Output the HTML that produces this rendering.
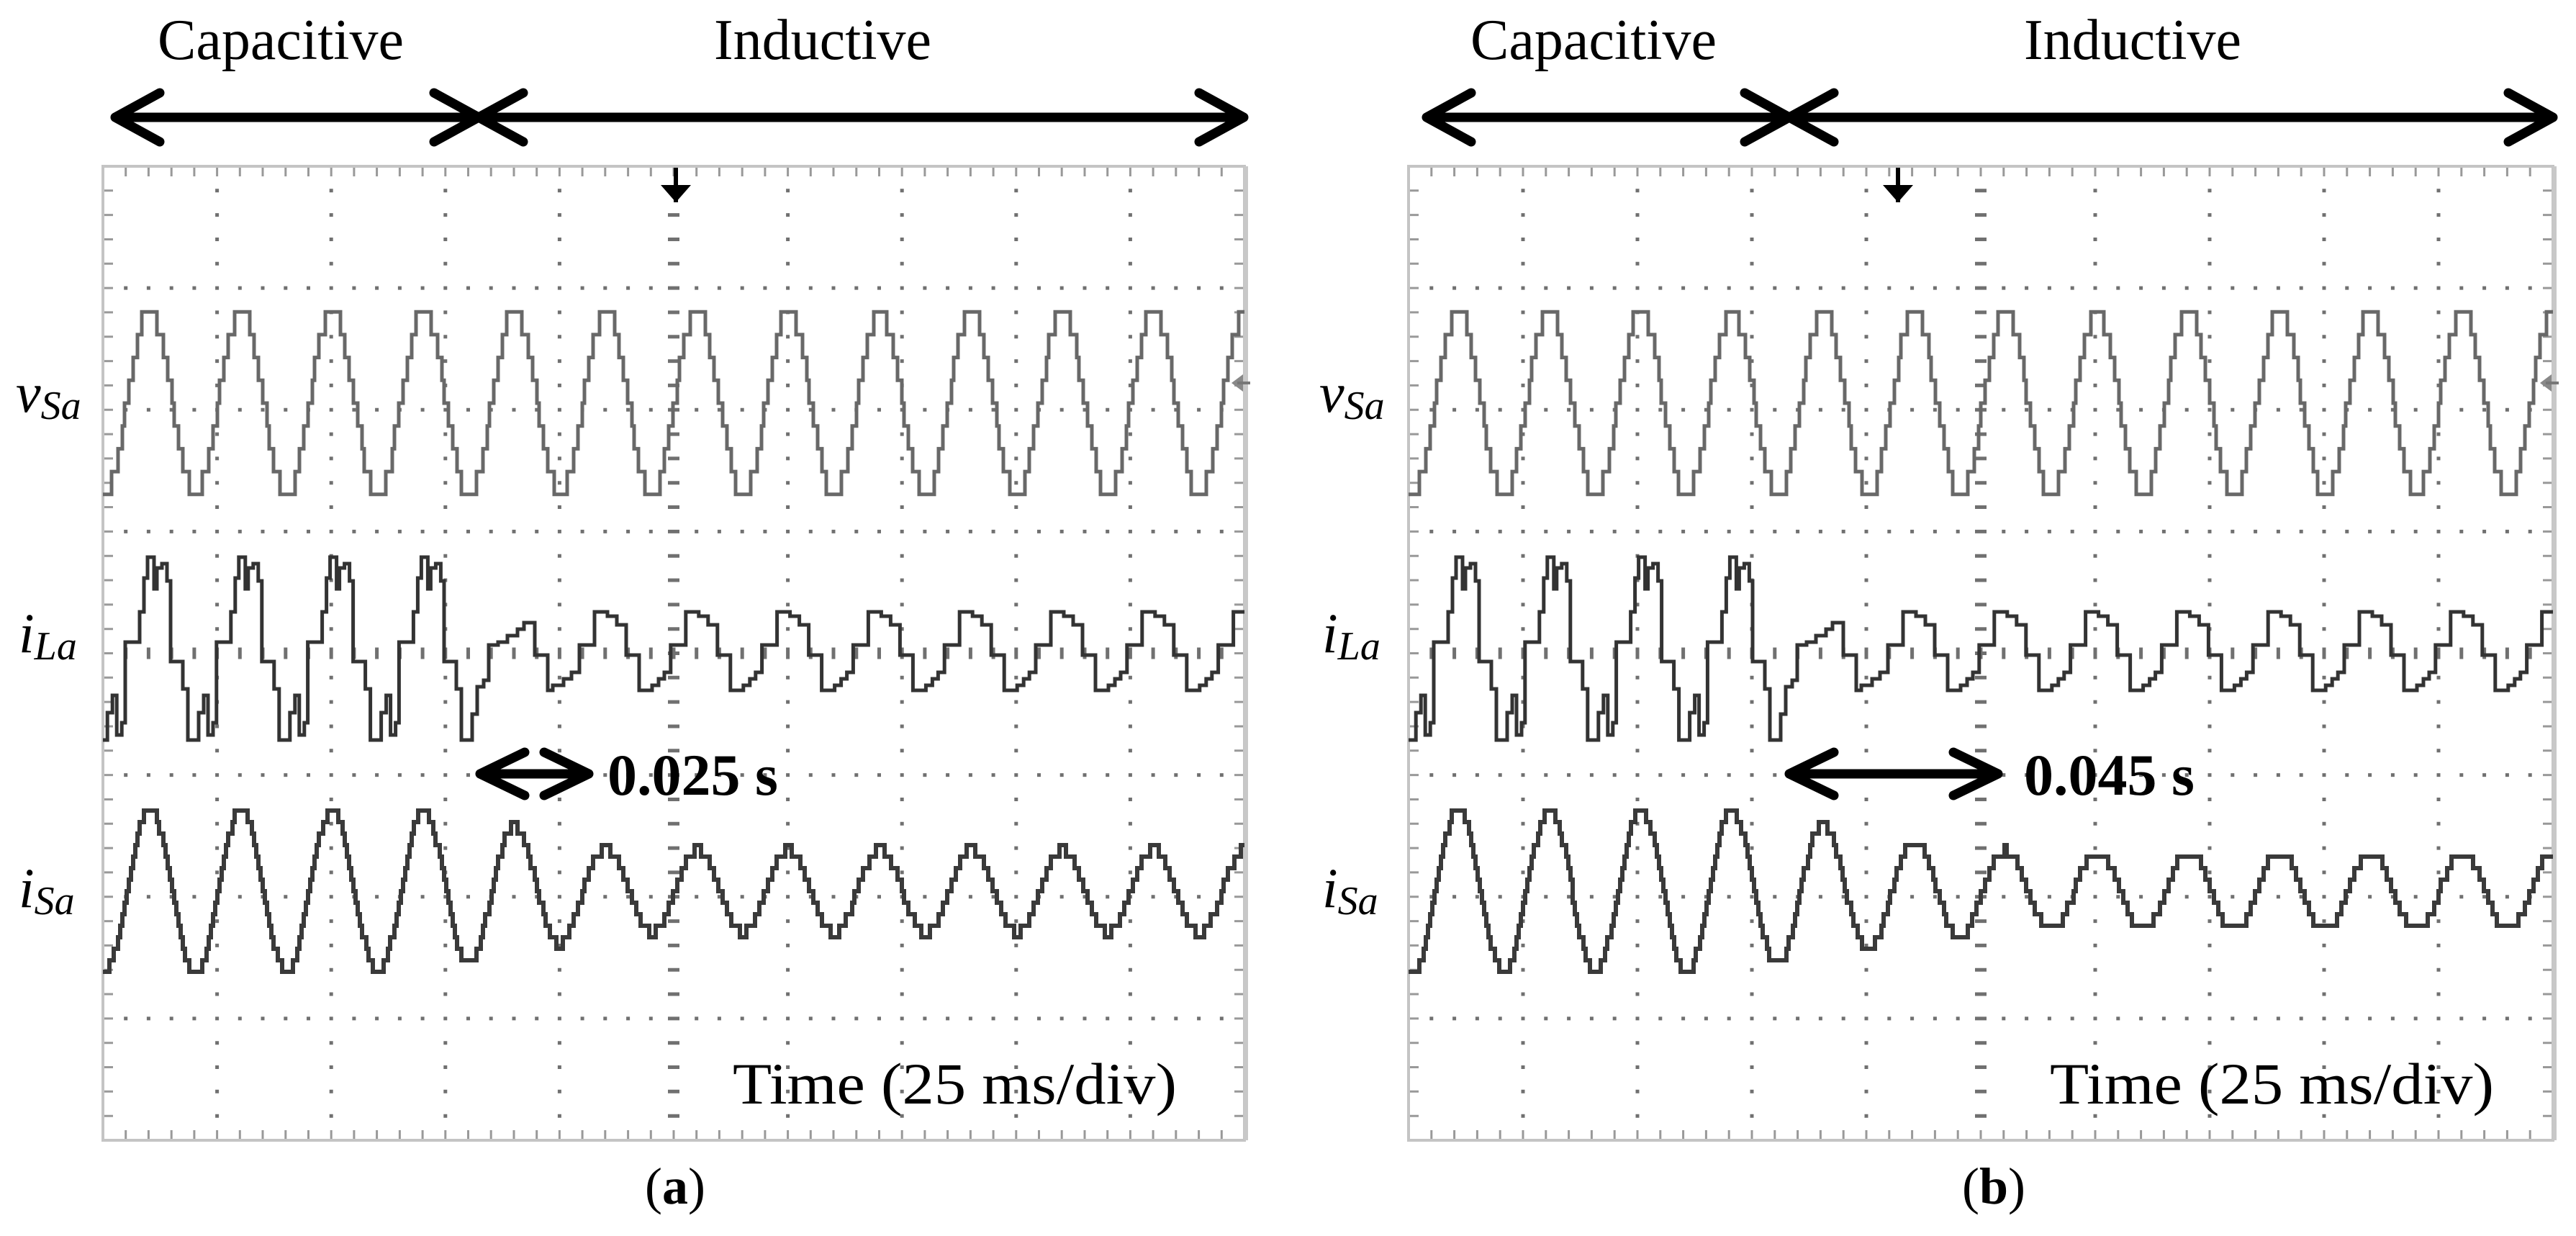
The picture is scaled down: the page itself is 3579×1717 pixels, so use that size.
<!DOCTYPE html>
<html><head><meta charset="utf-8">
<style>
html,body{margin:0;padding:0;background:#fff;}
svg{display:block;}
text{font-family:"Liberation Serif",serif;fill:#000;}
</style></head>
<body>
<svg id="s" xmlns="http://www.w3.org/2000/svg" width="3579" height="1717" viewBox="0 0 3579 1717">
<rect width="3579" height="1717" fill="#fff"/>
<g id="grid"></g>
<g id="waves" fill="none" stroke-linejoin="miter"></g>
<g id="arrows" fill="none" stroke="#000" stroke-width="13" stroke-linecap="round" stroke-linejoin="round"></g>
<text x="390" y="82" font-size="80" text-anchor="middle">Capacitive</text>
<text x="1143" y="82" font-size="80" text-anchor="middle">Inductive</text>
<text x="2214" y="82" font-size="80" text-anchor="middle">Capacitive</text>
<text x="2963" y="82" font-size="80" text-anchor="middle">Inductive</text>
<g font-style="italic">
<text x="22" y="572" font-size="78">v<tspan font-size="56" dy="10">Sa</tspan></text>
<text x="26" y="906" font-size="78">i<tspan font-size="56" dy="10">La</tspan></text>
<text x="26" y="1260" font-size="78">i<tspan font-size="56" dy="10">Sa</tspan></text>
<text x="1833" y="572" font-size="78">v<tspan font-size="56" dy="10">Sa</tspan></text>
<text x="1837" y="906" font-size="78">i<tspan font-size="56" dy="10">La</tspan></text>
<text x="1837" y="1260" font-size="78">i<tspan font-size="56" dy="10">Sa</tspan></text>
</g>
<text x="844" y="1104" font-size="82" font-weight="bold">0.025 s</text>
<text x="2812" y="1104" font-size="82" font-weight="bold">0.045 s</text>
<text x="1018" y="1533" font-size="82" textLength="617" lengthAdjust="spacingAndGlyphs">Time (25 ms/div)</text>
<text x="2848" y="1533" font-size="82" textLength="617" lengthAdjust="spacingAndGlyphs">Time (25 ms/div)</text>
<text x="938" y="1672" font-size="72" text-anchor="middle">(<tspan font-weight="bold">a</tspan>)</text>
<text x="2770" y="1672" font-size="72" text-anchor="middle">(<tspan font-weight="bold">b</tspan>)</text>
</svg>
<script>
(function(){
var NS="http://www.w3.org/2000/svg";
var grid=document.getElementById('grid'),waves=document.getElementById('waves'),arrows=document.getElementById('arrows');
function el(p,tag,a){var e=document.createElementNS(NS,tag);for(var k in a)e.setAttribute(k,a[k]);p.appendChild(e);return e;}
var BY=231,H=1353;
function stepWave(bx,w,fn,q,c){
  var d='',prev=null;
  for(var x=0;x<=w;x+=3){var y=c+Math.round((fn(x)-c)/q)*q;
    if(prev===null){d='M'+bx+' '+y.toFixed(1);prev=y;}
    else if(Math.abs(y-prev)>0.01){d+='H'+(bx+x)+'V'+y.toFixed(1);prev=y;}}
  return d+'H'+(bx+w);
}
function panel(bx,w,mx,p0,amps,dx){
  var s='';
  for(var i=1;i<10;i++){var x=bx+i*w/10;
    for(var j=1;j<40;j++){var y=BY+j*H/40;
      if(i==5) s+='M'+(x-8)+' '+y.toFixed(1)+'h16';
      else s+='M'+(x-2.5)+' '+y.toFixed(1)+'h5';}}
  for(var j=1;j<8;j++){var y=BY+j*H/8;
    for(var i=1;i<50;i++){var x=bx+i*w/50;
      if(j==4) s+='M'+x.toFixed(1)+' '+(y-8)+'v16';
      else s+='M'+(x-2.5).toFixed(1)+' '+y+'h5';}}
  el(grid,'path',{d:s,stroke:'#707070','stroke-width':5,fill:'none'});
  var t='';
  for(var i=1;i<50;i++){var x=(bx+i*w/50).toFixed(1);t+='M'+x+' '+BY+'v14M'+x+' '+(BY+H)+'v-14';}
  for(var j=1;j<40;j++){var y=(BY+j*H/40).toFixed(1);t+='M'+bx+' '+y+'h14M'+(bx+w)+' '+y+'h-14';}
  el(grid,'path',{d:t,stroke:'#999','stroke-width':3,fill:'none'});
  el(grid,'rect',{x:bx,y:BY,width:w,height:H,fill:'none',stroke:'#c4c4c4','stroke-width':4});
  el(grid,'line',{x1:bx+w+2,y1:BY,x2:bx+w+2,y2:BY+H,stroke:'#c8c8c8','stroke-width':6});
  el(grid,'line',{x1:mx,y1:BY+2,x2:mx,y2:BY+50,stroke:'#000','stroke-width':6});
  el(grid,'polygon',{points:(mx-21)+','+(BY+26)+' '+(mx+21)+','+(BY+26)+' '+mx+','+(BY+50),fill:'#000'});
  el(grid,'polygon',{points:(bx+w-18)+','+532+' '+(bx+w-2)+','+520+' '+(bx+w-2)+','+544,fill:'#888'});
  el(grid,'line',{x1:bx+w-10,y1:532,x2:bx+w+8,y2:532,stroke:'#777','stroke-width':4});
  var P=126.8;
  var d=stepWave(bx,w,function(x){return 560-127*Math.cos(2*Math.PI*(x-p0)/P);},31.7,560);
  el(waves,'path',{d:d,stroke:'#686868','stroke-width':5});
  function amp(x){var k=(x-p0)/P;var k0=Math.floor(k);var f=k-k0;
    function a(k){return amps[Math.max(0,Math.min(amps.length-1,k+1))];}
    return a(k0)*(1-f)+a(k0+1)*f;}
  d=stepWave(bx,w,function(x){return 1238-amp(x)*Math.cos(2*Math.PI*(x-p0)/P);},16,1238);
  el(waves,'path',{d:d,stroke:'#3a3a3a','stroke-width':6});
  var C=[[-33,892],[-13,850],[-7,803],[-2,774],[7,818],[11,789],[18,783],[25,807],[30,919],[47,957],[54,1028],[69,990],[76,966],[82,1021],[89,1004]];
  var I=[[-36,896],[-15,850],[3,856],[16,868],[29,910],[47,959],[65,952],[74,943],[82,934]];
  var T=[[474,919],[491,957],[498,1028],[513,992],[520,954],[529,945],[536,896],[549,892],[562,883],[576,874],[585,865],[600,910],[618,959],[625,952],[640,943],[651,934]];
  var pts=[];
  for(var k=-1;k<=3;k++){var p=64+P*k;C.forEach(function(c){var x=p+c[0];if(x<474)pts.push([x,c[1]]);});}
  T.forEach(function(c){pts.push([c[0],c[1]]);});
  for(var k=5;k<=13;k++){var p=64+P*k;I.forEach(function(c){var x=p+c[0];if(x>=660&&x<=w-dx)pts.push([x,c[1]]);});}
  pts.sort(function(a,b){return a[0]-b[0];});
  var st=0;for(var i=0;i<pts.length;i++){if(pts[i][0]+dx<=0)st=i;}
  d='M'+bx+' '+pts[st][1];
  for(var i=st+1;i<pts.length;i++){d+='H'+(bx+dx+pts[i][0]).toFixed(1)+'V'+pts[i][1];}
  d+='H'+(bx+w);
  el(waves,'path',{d:d,stroke:'#333','stroke-width':5});
}
panel(143,1586,939,64,[113,113,113,113,113,90,58,58],0);
panel(1957,1590,2637,68,[113,113,113,113,113,93,71,56,56],4);
function dbl(x1,x2,y,hl,hh){
  el(arrows,'path',{d:'M'+x1+' '+y+'H'+x2+'M'+(x1+hl)+' '+(y-hh)+'L'+x1+' '+y+'L'+(x1+hl)+' '+(y+hh)+'M'+(x2-hl)+' '+(y-hh)+'L'+x2+' '+y+'L'+(x2-hl)+' '+(y+hh)});
}
dbl(160,665,163,62,34);dbl(665,1728,163,62,34);
dbl(1982,2486,163,62,34);dbl(2486,3547,163,62,34);
dbl(667,818,1075,62,30);dbl(2486,2776,1075,62,30);
})();
</script>
</body></html>
